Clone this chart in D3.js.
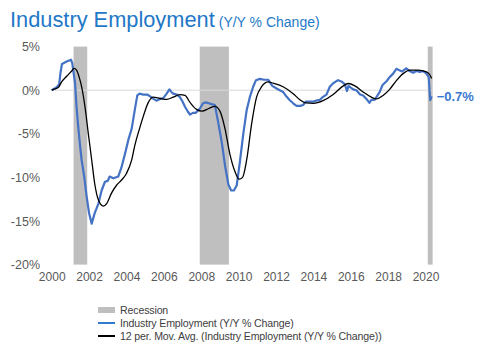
<!DOCTYPE html>
<html>
<head>
<meta charset="utf-8">
<script src="https://cdn.jsdelivr.net/npm/d3@7"></script>
<style>
  body { margin: 0; background: #fff; }
  svg { display: block; font-family: "Liberation Sans", Arial, sans-serif; }
</style>
</head>
<body>
<div id="chart"></div>
<script>
// monthly-ish readings, decimal years
const empDates = [2000.0, 2000.25, 2000.4, 2000.47, 2000.55, 2000.8, 2001.03, 2001.1, 2001.25, 2001.33,
  2001.42, 2001.5, 2001.6, 2001.74, 2001.87, 2002.0, 2002.14, 2002.3, 2002.5, 2002.67,
  2002.85, 2003.0, 2003.1, 2003.3, 2003.56, 2003.74, 2003.92, 2004.1, 2004.28, 2004.45,
  2004.58, 2004.7, 2004.9, 2005.1, 2005.26, 2005.45, 2005.6, 2005.8, 2005.97, 2006.15,
  2006.3, 2006.4, 2006.5, 2006.7, 2006.86, 2007.0, 2007.13, 2007.3, 2007.4, 2007.55,
  2007.7, 2007.93, 2008.1, 2008.25, 2008.4, 2008.55, 2008.73, 2008.9, 2009.1, 2009.27,
  2009.45, 2009.6, 2009.75, 2009.9, 2010.07, 2010.25, 2010.43, 2010.6, 2010.78, 2010.93,
  2011.14, 2011.35, 2011.58, 2011.8, 2012.03, 2012.2, 2012.38, 2012.55, 2012.74, 2012.92,
  2013.1, 2013.3, 2013.45, 2013.6, 2013.8, 2014.0, 2014.16, 2014.35, 2014.5, 2014.7,
  2014.88, 2015.06, 2015.32, 2015.5, 2015.68, 2015.8, 2015.88, 2016.0, 2016.13, 2016.3,
  2016.5, 2016.66, 2016.84, 2017.0, 2017.1, 2017.27, 2017.4, 2017.55, 2017.7, 2017.9,
  2018.08, 2018.27, 2018.44, 2018.6, 2018.75, 2018.97, 2019.15, 2019.34, 2019.5, 2019.7,
  2019.87, 2020.05, 2020.17, 2020.25, 2020.33];
const empValues = [0, 0.3, 0.7, 2.0, 3.0, 3.3, 3.5, 3.1, 0.8, -1.9,
  -4.2, -6.0, -8.0, -9.9, -12.2, -14.1, -15.3, -14.1, -13.0, -11.5,
  -10.5, -10.4, -9.9, -10.1, -9.9, -8.8, -7.3, -5.7, -4.4, -2.2,
  -0.6, -0.4, -0.5, -0.5, -0.7, -1.0, -1.2, -1.0, -0.9, -0.4,
  0.1, -0.2, -0.4, -0.5, -0.8, -1.3, -1.9, -2.5, -2.8, -2.6,
  -2.6, -2.1, -1.5, -1.4, -1.5, -1.6, -1.7, -3.6, -6.0, -8.6,
  -10.8, -11.5, -11.5, -10.9, -8.2, -5.0, -2.3, -0.8, 0.4, 1.15,
  1.3, 1.2, 1.2, 0.5, 0.2, 0.0, -0.2, -0.7, -1.15, -1.5,
  -1.8, -1.8, -1.7, -1.3, -1.3, -1.3, -1.2, -1.1, -0.8, -0.5,
  0.4, 0.8, 1.15, 1.0, 0.7, -0.1, 0.5, 0.3, 0.1, 0.0,
  -0.5, -0.6, -1.0, -1.45, -1.1, -1.1, -0.7, -0.2, 0.6, 1.0,
  1.5, 1.9, 2.45, 2.3, 2.15, 2.5, 2.2, 2.0, 2.2, 2.1,
  2.2, 1.9, 1.5, -1.15, -0.7];

const avgDates = [2000.0, 2000.1, 2000.35, 2000.53, 2000.8, 2001.07, 2001.2, 2001.33, 2001.47, 2001.6,
  2001.78, 2001.96, 2002.14, 2002.3, 2002.5, 2002.76, 2002.94, 2003.2, 2003.47, 2003.74,
  2004.0, 2004.28, 2004.45, 2004.7, 2004.9, 2005.17, 2005.43, 2005.8, 2006.15, 2006.5,
  2006.86, 2007.13, 2007.4, 2007.75, 2008.05, 2008.4, 2008.73, 2009.0, 2009.27, 2009.53,
  2009.8, 2010.03, 2010.21, 2010.43, 2010.7, 2010.96, 2011.23, 2011.58, 2011.85, 2012.38,
  2012.92, 2013.28, 2013.6, 2014.0, 2014.52, 2015.06, 2015.6, 2015.86, 2016.22, 2016.66,
  2017.1, 2017.38, 2017.73, 2018.08, 2018.44, 2018.8, 2019.16, 2019.6, 2020.05, 2020.22,
  2020.33];
const avgValues = [0, 0.1, 0.3, 0.95, 1.6, 2.2, 2.5, 2.3, 1.5, 0.4,
  -1.9, -5.0, -8.0, -10.7, -12.6, -13.3, -13.0, -11.8, -10.9, -10.3,
  -9.55, -8.0, -6.3, -4.4, -3.0, -1.4, -0.8, -0.95, -1.05, -0.8,
  -0.5, -0.6, -1.4, -2.2, -2.4, -2.1, -1.85, -2.4, -4.4, -7.3,
  -9.3, -10.2, -10.0, -8.0, -3.8, -0.8, 0.4, 0.95, 0.8, 0.4,
  -0.4, -1.1, -1.45, -1.5, -1.2, -0.5, 0.5, 0.77, 0.5, -0.2,
  -0.8, -1.0, -0.6, 0.1, 1.1, 1.9, 2.3, 2.3, 2.1, 1.8,
  1.35];

const recessionStarts = [2001.17, 2007.92, 2020.12];
const recessionEnds = [2001.9, 2009.48, 2020.38];

const yearTicks = [2000, 2002, 2004, 2006, 2008, 2010, 2012, 2014, 2016, 2018, 2020];
const pctTicks = [5, 0, -5, -10, -15, -20];

const legendLabels = ['Recession', 'Industry Employment (Y/Y % Change)',
  '12 per. Mov. Avg. (Industry Employment (Y/Y % Change))'];

const W = 484, H = 361;
const blue = '#4472c4';

const svg = d3.select('#chart').append('svg')
  .attr('width', W).attr('height', H);

const x = d3.scaleLinear().domain([2000, 2020.4]).range([51.7, 433]);
const y = d3.scaleLinear().domain([-20, 5]).range([264.6, 46.6]);

// title
const title = svg.append('text').attr('x', 10).attr('y', 27).attr('fill', '#1f78c8');
title.append('tspan').attr('font-size', 21.8).text('Industry Employment');
title.append('tspan').attr('font-size', 14).attr('dx', 4).text('(Y/Y % Change)');

// recession bars
svg.append('g').selectAll('rect')
  .data(recessionStarts.map((s, i) => [s, recessionEnds[i]]))
  .join('rect')
  .attr('x', d => x(d[0]))
  .attr('width', d => x(d[1]) - x(d[0]))
  .attr('y', y(5))
  .attr('height', y(-20) - y(5))
  .attr('fill', '#bfbfbf');

// zero line
svg.append('line')
  .attr('x1', x(2000)).attr('x2', x(2020.4))
  .attr('y1', y(0)).attr('y2', y(0))
  .attr('stroke', '#d9d9d9').attr('stroke-width', 1);

// axes
const yAxis = svg.append('g')
  .attr('transform', 'translate(40,0)')
  .call(d3.axisLeft(y).tickValues(pctTicks).tickSize(0).tickPadding(0).tickFormat(d => d + '%'));
yAxis.select('.domain').remove();
yAxis.selectAll('text').attr('font-size', 12.5).attr('fill', '#595959')
  .attr('font-family', '"Liberation Sans", Arial, sans-serif');

const xAxis = svg.append('g')
  .attr('transform', 'translate(0,269)')
  .call(d3.axisBottom(x).tickValues(yearTicks).tickSize(0).tickPadding(3).tickFormat(d3.format('d')));
xAxis.select('.domain').remove();
xAxis.selectAll('text').attr('font-size', 12).attr('fill', '#595959')
  .attr('font-family', '"Liberation Sans", Arial, sans-serif');

// series
const empData = empDates.map((d, i) => [d, empValues[i]]);
const avgData = avgDates.map((d, i) => [d, avgValues[i]]);

const line = d3.line().x(d => x(d[0])).y(d => y(d[1]));
const smooth = d3.line().x(d => x(d[0])).y(d => y(d[1])).curve(d3.curveMonotoneX);

svg.append('path').datum(empData)
  .attr('d', line)
  .attr('fill', 'none').attr('stroke', blue).attr('stroke-width', 2.2)
  .attr('stroke-linejoin', 'round');

svg.append('path').datum(avgData)
  .attr('d', smooth)
  .attr('fill', 'none').attr('stroke', '#000').attr('stroke-width', 1.3);

// last value label
const last = empData[empData.length - 1];
svg.append('text')
  .attr('x', x(last[0]) + 5).attr('y', y(last[1]))
  .attr('dy', '0.35em')
  .attr('font-size', 13).attr('font-weight', 'bold').attr('fill', '#3a78cf')
  .text(d3.format('.1f')(last[1]) + '%');

// legend
const legend = svg.append('g').attr('transform', 'translate(98,310)');
const rows = legend.selectAll('g').data(legendLabels).join('g')
  .attr('transform', (d, i) => `translate(0,${i * 13})`);
rows.filter((d, i) => i === 0).append('rect')
  .attr('x', 0).attr('y', -3).attr('width', 17).attr('height', 6).attr('fill', '#bfbfbf');
rows.filter((d, i) => i > 0).append('line')
  .attr('x1', 0).attr('x2', 17).attr('y1', 0).attr('y2', 0)
  .attr('stroke', (d, i) => i === 0 ? '#2e7bd0' : '#000').attr('stroke-width', 2);
rows.append('text')
  .attr('x', 22).attr('dy', '0.35em')
  .attr('font-size', 10.6).attr('letter-spacing', -0.15).attr('fill', '#404040')
  .text(d => d);
</script>
</body>
</html>
